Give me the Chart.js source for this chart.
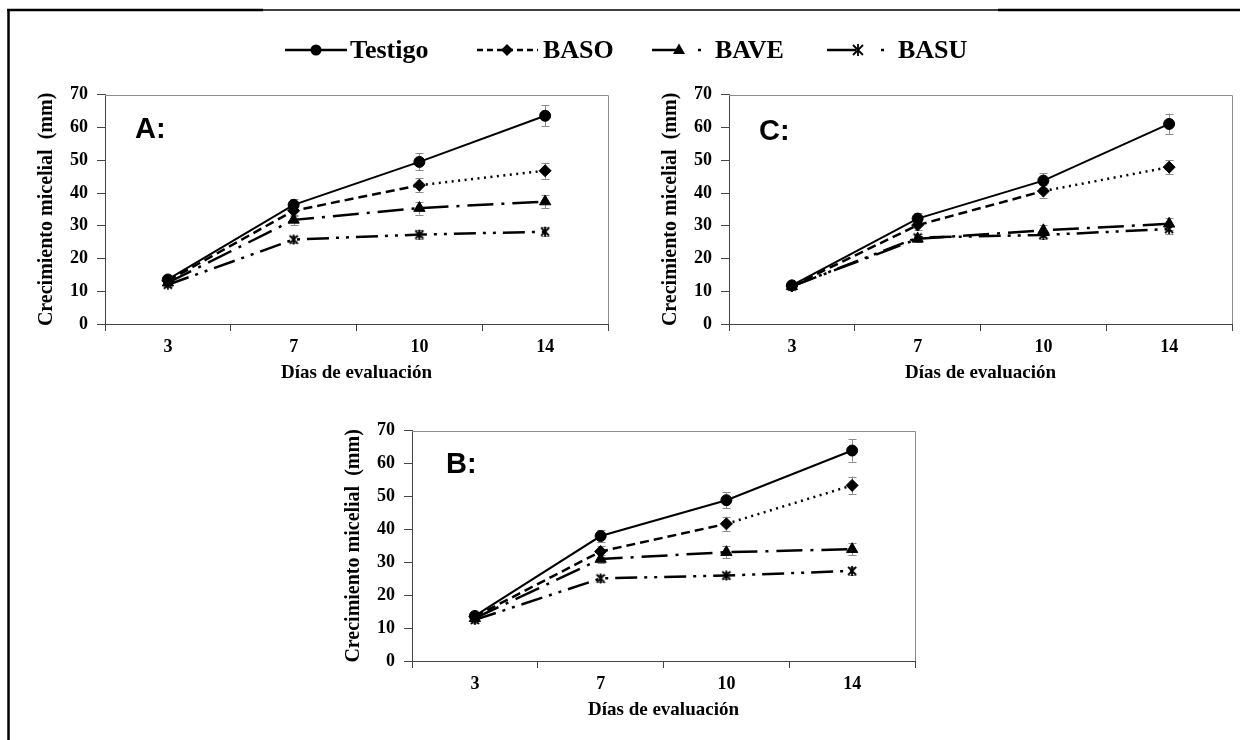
<!DOCTYPE html>
<html>
<head>
<meta charset="utf-8">
<script src="https://cdn.jsdelivr.net/npm/chart.js@4.4.1/dist/chart.umd.min.js"></script>
<style>
  html, body { margin: 0; padding: 0; background: #fff; }
  body { width: 1244px; height: 740px; position: relative; overflow: hidden; }
  .panel { position: absolute; width: 600px; }
  #overlay { position: absolute; left: 0; top: 0; z-index: 5; }
</style>
</head>
<body>
<div class="panel" style="left:20px;top:75px;height:309px"><canvas id="chartA"></canvas></div>
<div class="panel" style="left:644px;top:75px;height:309px"><canvas id="chartC"></canvas></div>
<div class="panel" style="left:327px;top:411px;height:310px"><canvas id="chartB"></canvas></div>
<svg id="overlay" width="1244" height="740"></svg>

<script>
const dias = ['3', '7', '10', '14'];
const series = ['Testigo', 'BASO', 'BAVE', 'BASU'];

// A
const testigoA = [13.6, 36.4, 49.5, 63.6];
const basoA    = [13.2, 34.6, 42.4, 46.8];
const baveA    = [12.6, 31.8, 35.4, 37.4];
const basuA    = [12.0, 25.8, 27.3, 28.2];
const errTestigoA = [1.2, 1.8, 2.6, 3.2];
const errBasoA    = [1.0, 1.5, 2.2, 2.4];
const errBaveA    = [0.8, 1.5, 2.0, 2.0];
const errBasuA    = [0.8, 1.0, 1.3, 1.4];

// C
const testigoC = [11.8, 32.2, 43.8, 61.1];
const basoC    = [11.6, 30.2, 40.6, 47.9];
const baveC    = [11.5, 26.0, 28.6, 30.6];
const basuC    = [11.5, 26.4, 27.2, 29.0];
const errTestigoC = [1.0, 1.6, 2.2, 3.1];
const errBasoC    = [0.8, 1.4, 2.0, 2.2];
const errBaveC    = [0.8, 1.0, 1.5, 1.8];
const errBasuC    = [0.8, 1.0, 1.2, 1.4];

// B
const testigoB = [13.7, 38.0, 48.9, 64.0];
const basoB    = [13.5, 33.3, 41.7, 53.4];
const baveB    = [13.0, 31.0, 33.1, 34.0];
const basuB    = [12.5, 25.1, 26.0, 27.4];
const errTestigoB = [1.0, 1.7, 2.5, 3.4];
const errBasoB    = [0.8, 1.6, 2.2, 2.7];
const errBaveB    = [0.8, 1.3, 1.8, 1.8];
const errBasuB    = [0.8, 1.0, 1.2, 1.3];

Chart.defaults.font.family = '"Liberation Serif", "Times New Roman", serif';
Chart.defaults.color = '#000';

// marcador tipo estrella de Excel (X + linea vertical)
function starMarker() {
  const c = document.createElement('canvas');
  c.width = 12; c.height = 12;
  const g = c.getContext('2d');
  g.strokeStyle = '#000';
  g.lineWidth = 1.8;
  g.beginPath();
  g.moveTo(2, 2); g.lineTo(10, 10);
  g.moveTo(10, 2); g.lineTo(2, 10);
  g.moveTo(6, 1); g.lineTo(6, 11);
  g.stroke();
  return c;
}
const star = starMarker();

const styles = [
  { pointStyle: 'circle', pointRadius: 5.5, borderWidth: 2, borderDash: [] },
  { pointStyle: 'rectRot', pointRadius: 6, borderWidth: 2.5, borderDash: [9, 5] },
  { pointStyle: 'triangle', pointRadius: 6.5, borderWidth: 2.5, borderDash: [26, 8, 3, 8] },
  { pointStyle: star, pointRadius: 6, borderWidth: 2.5, borderDash: [22, 7, 3, 7, 3, 7] }
];

const errorBars = {
  id: 'errorBars',
  beforeDatasetsDraw(chart) {
    const ctx = chart.ctx;
    const y = chart.scales.y;
    ctx.save();
    ctx.strokeStyle = '#8c8c8c';
    ctx.lineWidth = 1;
    chart.data.datasets.forEach((ds, i) => {
      const meta = chart.getDatasetMeta(i);
      meta.data.forEach((pt, j) => {
        const top = y.getPixelForValue(ds.data[j] + ds.errors[j]);
        const bot = y.getPixelForValue(ds.data[j] - ds.errors[j]);
        const x = Math.round(pt.x) + 0.5;
        ctx.beginPath();
        ctx.moveTo(x, top); ctx.lineTo(x, bot);
        ctx.moveTo(x - 4, Math.round(top) + 0.5); ctx.lineTo(x + 4, Math.round(top) + 0.5);
        ctx.moveTo(x - 4, Math.round(bot) + 0.5); ctx.lineTo(x + 4, Math.round(bot) + 0.5);
        ctx.stroke();
      });
    });
    ctx.restore();
  }
};

const plotBox = {
  id: 'plotBox',
  beforeDatasetsDraw(chart) {
    const { ctx, chartArea: a } = chart;
    ctx.save();
    ctx.strokeStyle = '#8c8c8c';
    ctx.lineWidth = 1;
    ctx.beginPath();
    ctx.moveTo(a.left, Math.round(a.top) + 0.5);
    ctx.lineTo(Math.round(a.right) + 0.5, Math.round(a.top) + 0.5);
    ctx.lineTo(Math.round(a.right) + 0.5, a.bottom);
    ctx.stroke();
    ctx.restore();
  }
};

function makeChart(id, vals, errs) {
  const datasets = series.map((name, i) => {
    const ds = {
      label: name,
      data: vals[i],
      errors: errs[i],
      borderColor: '#000',
      backgroundColor: '#000',
      pointBackgroundColor: '#000',
      pointBorderColor: '#000',
      pointBorderWidth: 1,
      borderWidth: styles[i].borderWidth,
      borderDash: styles[i].borderDash,
      pointStyle: styles[i].pointStyle,
      pointRadius: styles[i].pointRadius,
      tension: 0
    };
    if (i === 1) {
      // ultimo tramo punteado
      ds.segment = { borderDash: ctx => ctx.p0DataIndex === 2 ? [2, 4.5] : undefined };
    }
    return ds;
  });

  return new Chart(document.getElementById(id), {
    type: 'line',
    data: { labels: dias, datasets },
    plugins: [plotBox, errorBars],
    options: {
      responsive: true,
      maintainAspectRatio: false,
      animation: false,
      layout: { padding: { top: 14, right: 12, left: 0, bottom: 0 } },
      plugins: { legend: { display: false }, tooltip: { enabled: false } },
      scales: {
        x: {
          offset: true,
          afterFit(s) { s.height = 60; },
          grid: { offset: true, drawOnChartArea: false, tickLength: 7, color: '#444' },
          border: { color: '#444' },
          ticks: { padding: 6, font: { size: 18, weight: 'bold' } },
          title: { display: true, text: 'Días de evaluación', padding: 0, font: { size: 19, weight: 'bold' } }
        },
        y: {
          min: 0, max: 70,
          afterFit(s) { s.width = 85; },
          grid: { drawOnChartArea: false, tickLength: 8, color: '#444' },
          border: { color: '#444' },
          ticks: { stepSize: 10, padding: 9, font: { size: 18, weight: 'bold' } },
          title: { display: true, text: 'Crecimiento micelial  (mm)', padding: { top: 15 }, font: { size: 20, weight: 'bold' } }
        }
      }
    }
  });
}

makeChart('chartA', [testigoA, basoA, baveA, basuA], [errTestigoA, errBasoA, errBaveA, errBasuA]);
makeChart('chartC', [testigoC, basoC, baveC, basuC], [errTestigoC, errBasoC, errBaveC, errBasuC]);
makeChart('chartB', [testigoB, basoB, baveB, basuB], [errTestigoB, errBasoB, errBaveB, errBasuB]);

// marco, leyenda y letras de panel
const legendX = [350, 543, 715, 898];
const svg = document.getElementById('overlay');
let s = '';
s += '<line x1="8.5" y1="9" x2="8.5" y2="740" stroke="#000" stroke-width="2.5"/>';
s += '<line x1="7" y1="10" x2="263" y2="10" stroke="#000" stroke-width="2.5"/>';
s += '<line x1="263" y1="10" x2="998" y2="10" stroke="#000" stroke-width="1.5"/>';
s += '<line x1="998" y1="10" x2="1240" y2="10" stroke="#000" stroke-width="2.5"/>';

// Testigo
s += '<line x1="285" y1="50" x2="347" y2="50" stroke="#000" stroke-width="2.5"/>';
s += '<circle cx="316" cy="50" r="5.5" fill="#000"/>';
// BASO
s += '<line x1="477" y1="50" x2="538" y2="50" stroke="#000" stroke-width="2.5" stroke-dasharray="6 4"/>';
s += '<polygon points="507,44 513,50 507,56 501,50" fill="#000"/>';
// BAVE
s += '<line x1="652" y1="50" x2="679" y2="50" stroke="#000" stroke-width="2.5"/>';
s += '<polygon points="679,43.5 685,54 673,54" fill="#000"/>';
s += '<line x1="698" y1="50" x2="701" y2="50" stroke="#000" stroke-width="2.5"/>';
// BASU
s += '<line x1="827" y1="50" x2="856" y2="50" stroke="#000" stroke-width="2.5"/>';
s += '<path d="M853,45 L863,55 M863,45 L853,55 M858,44 L858,56" stroke="#000" stroke-width="1.8"/>';
s += '<line x1="881" y1="50" x2="884" y2="50" stroke="#000" stroke-width="2.5"/>';

series.forEach((name, i) => {
  s += `<text x="${legendX[i]}" y="58" font-family="Liberation Serif" font-weight="bold" font-size="26">${name}</text>`;
});

const panelLetters = [['A:', 135, 138], ['C:', 759, 140], ['B:', 446, 473]];
panelLetters.forEach(([t, x, y]) => {
  s += `<text x="${x}" y="${y}" font-family="Liberation Sans" font-weight="bold" font-size="29">${t}</text>`;
});
svg.innerHTML = s;
</script>
</body>
</html>
